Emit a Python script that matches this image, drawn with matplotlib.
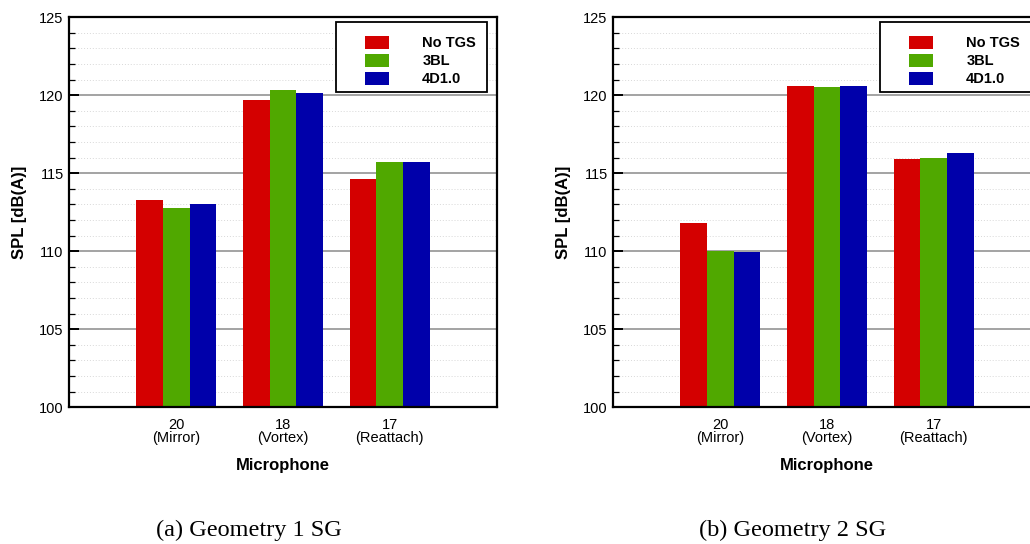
import matplotlib
matplotlib.use('Agg')
import matplotlib.pyplot as plt
from matplotlib.patches import Rectangle, Patch
import numpy as np

# data
mics = ['20\n(Mirror)', '18\n(Vortex)', '17\n(Reattach)']
series = ['No TGS', '3BL', '4D1.0']
geo1_notgs = [113.3, 119.7, 114.65]
geo1_3bl = [112.8, 120.35, 115.75]
geo1_4d = [113.0, 120.15, 115.75]
geo2_notgs = [111.8, 120.6, 115.9]
geo2_3bl = [110.05, 120.5, 116.0]
geo2_4d = [109.95, 120.6, 116.3]
captions = ['(a) Geometry 1 SG', '(b) Geometry 2 SG']

colors = ['#d40000', '#50a800', '#0000aa']

plt.rcParams['font.family'] = ['Liberation Sans', 'DejaVu Sans']

fig = plt.figure(figsize=(10.3, 5.44), dpi=100)


def panel(rect, vals, caption, cap_x):
    ax = fig.add_axes(rect)
    x = np.arange(1, len(mics) + 1)
    w = 0.25
    for i, v in enumerate(vals):
        ax.bar(x + (i - 1) * w, np.array(v) - 100, width=w, bottom=100,
               color=colors[i], label=series[i], zorder=3)
    ax.set_xlim(0, 4)
    ax.set_ylim(100, 125)
    ax.set_xticks(x)
    ax.set_xticklabels(mics, fontsize=10.5, linespacing=0.95)
    ax.set_yticks(np.arange(100, 126, 5))
    ax.set_yticks(np.arange(100, 126, 1), minor=True)
    ax.tick_params(axis='y', labelsize=10.5)
    ax.tick_params(axis='y', which='major', direction='in', length=7.5, width=1.4, pad=4)
    ax.tick_params(axis='y', which='minor', direction='in', length=4.5, width=0.9)
    ax.tick_params(axis='x', which='major', direction='in', length=7, width=1.4, pad=7.5)
    ax.tick_params(axis='x', which='minor', bottom=False)
    ax.grid(axis='y', which='major', color='#8a8a8a', lw=1.1, zorder=1)
    ax.grid(axis='y', which='minor', color='#d8d8d8', lw=0.7, ls=(0, (1, 2)), zorder=1)
    for s in ax.spines.values():
        s.set_linewidth(1.6)
        s.set_zorder(5)
    ax.set_ylabel('SPL [dB(A)]', fontsize=12, fontweight='bold')
    ax.yaxis.set_label_coords(-0.099, 0.5)
    ax.set_xlabel('Microphone', fontsize=12, fontweight='bold')
    ax.xaxis.set_label_coords(0.5, -0.13)

    # legend box
    ax.add_patch(Rectangle((0.624, 0.8085), 0.3526, 0.1785, transform=ax.transAxes,
                           facecolor='white', edgecolor='black', lw=1.3, zorder=6,
                           clip_on=False))
    handles = [Patch(facecolor=c, edgecolor='none') for c in colors]
    leg = ax.legend(handles, series, loc='upper left', bbox_to_anchor=(0.692, 0.953),
                    frameon=False, borderpad=0, borderaxespad=0, handlelength=1.62,
                    handleheight=1.0, handletextpad=2.3, labelspacing=0.25,
                    prop={'size': 10.5, 'weight': 'bold'})
    leg.set_zorder(7)

    fig.text(cap_x, 1 - 530 / 544, caption, ha='center', va='center',
             fontsize=17.5, family=['Liberation Serif', 'DejaVu Serif'])
    return ax


panel([69.3 / 1030, 136.7 / 544, 427.4 / 1030, 390 / 544],
      [geo1_notgs, geo1_3bl, geo1_4d], captions[0], 249 / 1030)
panel([613.3 / 1030, 136.7 / 544, 427.4 / 1030, 390 / 544],
      [geo2_notgs, geo2_3bl, geo2_4d], captions[1], 793 / 1030)

fig.savefig('out.png', dpi=100)
